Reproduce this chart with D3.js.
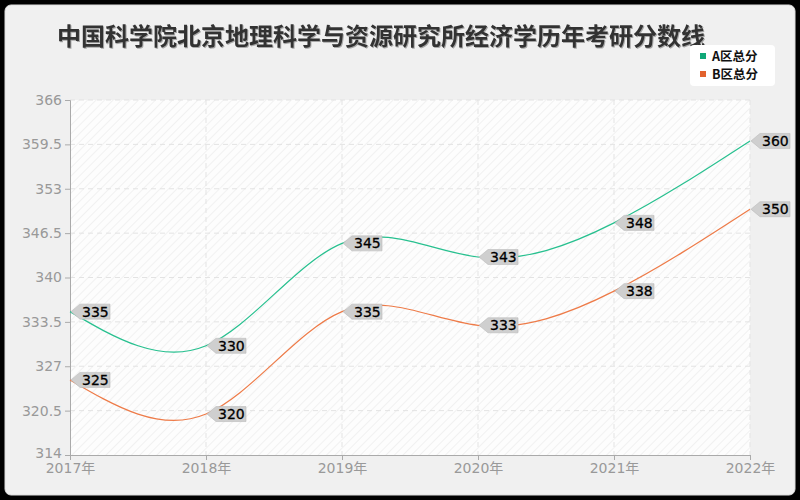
<!DOCTYPE html>
<html>
<head>
<meta charset="utf-8">
<script src="https://cdn.jsdelivr.net/npm/d3@7"></script>
<style>
  body { margin: 0; background: #000; }
  svg { display: block; font-family: "DejaVu Sans", "Noto Sans CJK SC", sans-serif; }
</style>
</head>
<body>
<svg id="chart" width="800" height="500"></svg>
<script>
const years = ["2017年", "2018年", "2019年", "2020年", "2021年", "2022年"];
const seriesA = [335, 330, 345, 343, 348, 360];
const seriesB = [325, 320, 335, 333, 338, 350];
const seriesNames = ["A区总分", "B区总分"];
const yTicks = [314, 320.5, 327, 333.5, 340, 346.5, 353, 359.5, 366];
const title = "中国科学院北京地理科学与资源研究所经济学历年考研分数线";

const lineColors = ["#27c08f", "#ee7b48"];
const markColors = ["#0fa878", "#e2622d"];

const svg = d3.select("#chart");
const margin = { top: 100, right: 50, bottom: 45, left: 70 };
const w = 800 - margin.left - margin.right;
const h = 500 - margin.top - margin.bottom;

// background panel
svg.append("rect").attr("x", 5).attr("y", 5).attr("width", 790).attr("height", 490)
  .attr("rx", 6).attr("fill", "#f0f0f0").attr("stroke", "#ddd");

// hatch pattern for plot area
const defs = svg.append("defs");
const pat = defs.append("pattern").attr("id", "hatch").attr("patternUnits", "userSpaceOnUse")
  .attr("width", 6).attr("height", 6).attr("patternTransform", "rotate(45)");
pat.append("rect").attr("width", 6).attr("height", 6).attr("fill", "#fdfdfd");
pat.append("line").attr("x1", 0).attr("y1", 0).attr("x2", 0).attr("y2", 6)
  .attr("stroke", "#f1f1f1").attr("stroke-width", 2);

const shadow = defs.append("filter").attr("id", "tshadow");
shadow.append("feDropShadow").attr("dx", 1).attr("dy", 1).attr("stdDeviation", 0.6)
  .attr("flood-color", "#000").attr("flood-opacity", 0.3);

// title
svg.append("text").attr("x", 57).attr("y", 45).attr("font-size", 24).attr("font-weight", "bold")
  .attr("fill", "#333").attr("filter", "url(#tshadow)")
  .attr("font-family", "'Noto Sans CJK SC', sans-serif").text(title);

const g = svg.append("g").attr("transform", "translate(" + margin.left + "," + margin.top + ")");

const x = d3.scalePoint().domain(years).range([0, w]);
const y = d3.scaleLinear().domain([314, 366]).range([h, 0]);

g.append("rect").attr("width", w).attr("height", h).attr("fill", "url(#hatch)");

// grid
g.append("g").selectAll("line").data(yTicks.slice(1)).enter().append("line")
  .attr("x1", 0).attr("x2", w).attr("y1", d => y(d)).attr("y2", d => y(d))
  .attr("stroke", "#e3e3e3").attr("stroke-dasharray", "5,4");
g.append("g").selectAll("line").data(years.slice(1)).enter().append("line")
  .attr("y1", 0).attr("y2", h).attr("x1", d => x(d)).attr("x2", d => x(d))
  .attr("stroke", "#e3e3e3").attr("stroke-dasharray", "5,4");

// axes
const yAxis = g.append("g").call(d3.axisLeft(y).tickValues(yTicks).tickSize(5).tickPadding(3).tickFormat(d => d));
const xAxis = g.append("g").attr("transform", "translate(0," + h + ")")
  .call(d3.axisBottom(x).tickSize(5).tickPadding(3));
[yAxis, xAxis].forEach(a => {
  a.select(".domain").attr("stroke", "#aaa");
  a.selectAll(".tick line").attr("stroke", "#aaa");
  a.selectAll("text").attr("fill", "#999").attr("font-size", 14)
    .attr("font-family", "'DejaVu Sans', 'Noto Sans CJK SC', sans-serif");
});
// lift the bottom y label a touch so it clears the first year label
yAxis.selectAll(".tick text").filter(d => d === 314).attr("dy", "0.2em");

// lines
const line = d3.line().x((d, i) => x(years[i])).y(d => y(d)).curve(d3.curveNatural);
[seriesA, seriesB].forEach((s, k) => {
  g.append("path").datum(s).attr("d", line).attr("fill", "none")
    .attr("stroke", lineColors[k]).attr("stroke-width", 1.2);
});

// value tags
[seriesA, seriesB].forEach(s => {
  const tags = g.append("g").selectAll("g").data(s).enter().append("g")
    .attr("transform", (d, i) => "translate(" + x(years[i]) + "," + y(d) + ")");
  tags.append("path")
    .attr("d", "M1,0 L10,-7.5 L40,-7.5 L40,7.5 L10,7.5 Z")
    .attr("fill", "#cfcfcf").attr("stroke", "#bbb").attr("stroke-width", 0.6);
  tags.append("text").attr("x", 12).attr("y", 5).attr("font-size", 14)
    .attr("fill", "#000").attr("stroke", "#000").attr("stroke-width", 0.3).text(d => d);
});

// legend
const lg = svg.append("g").attr("transform", "translate(690,45)");
lg.append("rect").attr("width", 85).attr("height", 41).attr("rx", 4).attr("fill", "#fff");
seriesNames.forEach((n, k) => {
  lg.append("rect").attr("x", 10).attr("y", 8 + k * 18).attr("width", 6).attr("height", 6)
    .attr("fill", markColors[k]);
  lg.append("text").attr("x", 22).attr("y", 15.5 + k * 18).attr("font-size", 12.5)
    .attr("font-weight", "bold").attr("fill", "#111")
    .attr("font-family", "'Noto Sans CJK SC', sans-serif").text(n);
});
</script>
</body>
</html>
